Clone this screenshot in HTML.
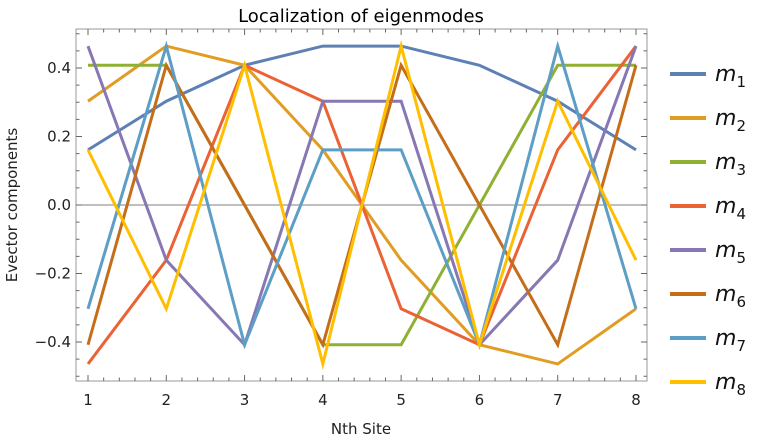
<!DOCTYPE html>
<html><head><meta charset="utf-8"><style>
body{margin:0;background:#fff;}
svg text{font-family:"DejaVu Sans","Liberation Sans",sans-serif;}
</style></head><body>
<svg id="chart" width="760" height="440" xmlns="http://www.w3.org/2000/svg">
<text x="361" y="22" text-anchor="middle" font-size="18" fill="#000">Localization of eigenmodes</text>
<text x="361" y="434" text-anchor="middle" font-size="15" fill="#222">Nth Site</text>
<text transform="translate(17,205) rotate(-90)" text-anchor="middle" font-size="15" fill="#222">Evector components</text>
<g id="axes"></g>
<g id="series"></g>
<g id="legend"></g>
</svg>
<script>
const sites = [1,2,3,4,5,6,7,8];
const m1 = [0.161,0.303,0.408,0.464,0.464,0.408,0.303,0.161];
const m2 = [0.303,0.464,0.408,0.161,-0.161,-0.408,-0.464,-0.303];
const m3 = [0.408,0.408,0,-0.408,-0.408,0,0.408,0.408];
const m4 = [-0.464,-0.161,0.408,0.303,-0.303,-0.408,0.161,0.464];
const m5 = [0.464,-0.161,-0.408,0.303,0.303,-0.408,-0.161,0.464];
const m6 = [-0.408,0.408,0,-0.408,0.408,0,-0.408,0.408];
const m7 = [-0.303,0.464,-0.408,0.161,0.161,-0.408,0.464,-0.303];
const m8 = [0.161,-0.303,0.408,-0.464,0.464,-0.408,0.303,-0.161];
const seriesNames = ["1","2","3","4","5","6","7","8"];
const yTicks = [-0.4,-0.2,0,0.2,0.4];
const yTickLabels = ["\u22120.4","\u22120.2","0.0","0.2","0.4"];

const allSeries=[m1,m2,m3,m4,m5,m6,m7,m8];
const colors=["#5e81b5","#e19c24","#8fb032","#eb6235","#8778b3","#c56e1a","#5d9ec7","#ffbf00"];
const L=76,R=647,T=29,B=381;
const xS=v=>88+(v-1)*(636-88)/7;
const yS=v=>205-v*342.5;
const NS="http://www.w3.org/2000/svg";
function mk(tag,attrs,parent){const e=document.createElementNS(NS,tag);for(const k in attrs)e.setAttribute(k,attrs[k]);parent.appendChild(e);return e;}
const ax=document.getElementById('axes');
const fr=mk('rect',{x:L,y:T,width:R-L,height:B-T,fill:'none',stroke:'#999','stroke-width':1},ax);


const zl=mk('line',{x1:L,x2:R,y1:yS(0),y2:yS(0),stroke:'#555','stroke-width':0.8},ax);


for(let v=1;v<=8.0001;v+=0.2){
  const major=Math.abs(v-Math.round(v))<1e-6;const len=major?6:3.5;const x=xS(v);
  mk('line',{x1:x,x2:x,y1:B,y2:B-len,stroke:'#666'},ax);
  mk('line',{x1:x,x2:x,y1:T,y2:T+len,stroke:'#666'},ax);
}
sites.forEach(s=>{const t=mk('text',{x:xS(s),y:B+24,'text-anchor':'middle','font-size':15,fill:'#222'},ax);t.textContent=s;

});
for(let i=-10;i<=10;i++){const v=i*0.05;const y=yS(v);if(y<T||y>B)continue;const major=i%4===0;const len=major?6:3.5;
  mk('line',{x1:L,x2:L+len,y1:y,y2:y,stroke:'#666'},ax);
  mk('line',{x1:R,x2:R-len,y1:y,y2:y,stroke:'#666'},ax);}
yTicks.forEach((v,i)=>{const t=mk('text',{x:L-5,y:yS(v)+5,'text-anchor':'end','font-size':15,fill:'#222'},ax);t.textContent=yTickLabels[i];

});
const sg=document.getElementById('series');
allSeries.forEach((arr,i)=>{
  const p=mk('polyline',{points:arr.map((v,j)=>xS(sites[j])+','+yS(v)).join(' '),fill:'none',stroke:colors[i],'stroke-width':3,'stroke-linejoin':'miter','stroke-miterlimit':10},sg);
  
  
});
const lg=document.getElementById('legend');
seriesNames.forEach((n,i)=>{
  const y=74+i*44;
  const g=mk('g',{},lg);
  
  
  mk('line',{x1:670,x2:706,y1:y,y2:y,stroke:colors[i],'stroke-width':4},g);
  const t=mk('text',{x:715,y:y+7,'font-size':22,'font-style':'italic',fill:'#111'},g);
  t.textContent='m';
  const s=mk('tspan',{dy:6,'font-size':15,'font-style':'normal'},t);s.textContent=n;
});
</script>
</body></html>
